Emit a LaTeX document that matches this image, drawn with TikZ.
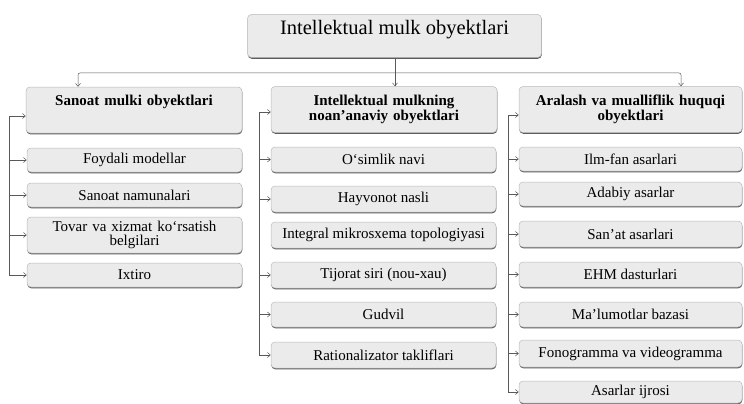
\documentclass[tikz,border=0pt]{standalone}
\usepackage{fontspec}
\setmainfont{Liberation Serif}
\usetikzlibrary{shadows,arrows.meta}
\begin{document}
\begin{tikzpicture}[x=1pt,y=-1pt,
  box/.style={draw=gray!55, line width=0.5pt, rounded corners=4pt,
    fill=gray!16, align=center, inner sep=1pt, text=black,
    drop shadow={shadow xshift=0.3pt, shadow yshift=-1.3pt, opacity=0.85, fill=black!75}},
  ttl/.style={box, font=\fontsize{20.5}{22}\selectfont},
  hd/.style={box, font=\bfseries\fontsize{15}{15.5}\selectfont, minimum height=46},
  sb/.style={box, font=\fontsize{15}{15}\selectfont},
  conn/.style={draw=black!65, line width=0.5pt},
  arr/.style={conn, -{Straight Barb[length=3pt,width=5pt]}}]
\useasboundingbox (0,0) rectangle (744,404);
% title
\node[ttl, minimum width=294, minimum height=43, text height=14pt, text depth=16pt] (t) at (394.5,36) {Intellektual mulk obyektlari};
% main headings
\node[hd, minimum width=216, text width=210, text height=11pt, text depth=21pt] (m1) at (134,110) {Sanoat mulki obyektlari};
\node[hd, minimum width=226, text width=220] (m2) at (384,109.5) {Intellektual mulkning\\noan’anaviy obyektlari};
\node[hd, minimum width=223, text width=217] (m3) at (630.5,109.5) {Aralash va mualliflik huquqi\\obyektlari};
% left column
\node[sb, minimum width=215, minimum height=24] (s11) at (134.5,160) {Foydali modellar};
\node[sb, minimum width=215, minimum height=24] (s12) at (134.5,195) {Sanoat namunalari};
\node[sb, minimum width=215, minimum height=36, text width=209, font=\fontsize{15}{13.5}\selectfont] (s13) at (134.5,235) {Tovar va xizmat ko‘rsatish\\belgilari};
\node[sb, minimum width=215, minimum height=24] (s14) at (134.5,275) {Ixtiro};
% middle column
\node[sb, minimum width=225, minimum height=25] (s21) at (383.5,159.5) {O‘simlik navi};
\node[sb, minimum width=225, minimum height=26] (s22) at (383.5,199) {Hayvonot nasli};
\node[sb, minimum width=225, minimum height=26] (s23) at (383.5,235) {Integral mikrosxema topologiyasi};
\node[sb, minimum width=225, minimum height=26] (s24) at (383.5,275) {Tijorat siri (nou-xau)};
\node[sb, minimum width=225, minimum height=25] (s25) at (383.5,314.5) {Gudvil};
\node[sb, minimum width=225, minimum height=26] (s26) at (383.5,355) {Rationalizator takliflari};
% right column
\node[sb, minimum width=223, minimum height=24] (s31) at (630.5,159) {Ilm-fan asarlari};
\node[sb, minimum width=223, minimum height=24] (s32) at (630.5,194) {Adabiy asarlar};
\node[sb, minimum width=223, minimum height=26] (s33) at (630.5,234) {San’at asarlari};
\node[sb, minimum width=223, minimum height=25] (s34) at (630.5,274.5) {EHM dasturlari};
\node[sb, minimum width=223, minimum height=25] (s35) at (630.5,314.5) {Ma’lumotlar bazasi};
\node[sb, minimum width=223, minimum height=27] (s36) at (630.5,353.5) {Fonogramma va videogramma};
\node[sb, minimum width=223, minimum height=22] (s37) at (630.5,392) {Asarlar ijrosi};
% top connectors
\coordinate (bus) at (395,73);
\draw[conn] (t.south -| bus) -- (bus);
\draw[arr] (bus) -- (m2.north -| bus);
\draw[arr, rounded corners=2pt] (bus) -| ([xshift=-56]m1.north);
\draw[arr, rounded corners=2pt] (bus) -| ([xshift=50.5]m3.north);
% buses
\coordinate (L0) at (9,116);
\coordinate (M0) at (259,112);
\coordinate (R0) at (508,115);
\draw[arr] (L0) -- (m1.west |- L0);
\foreach \n in {s11,s12,s13,s14} \draw[arr] (L0) |- (\n.west);
\draw[arr] (M0) -- (m2.west |- M0);
\draw[conn] (M0) -- (M0 |- s23.west);
\foreach \n in {s21,s22,s24,s25,s26} \draw[arr] (M0) |- (\n.west);
\draw[arr] (R0) -- (m3.west |- R0);
\foreach \n in {s31,s32,s33,s34,s35,s36,s37} \draw[arr] (R0) |- (\n.west);
\end{tikzpicture}
\end{document}
